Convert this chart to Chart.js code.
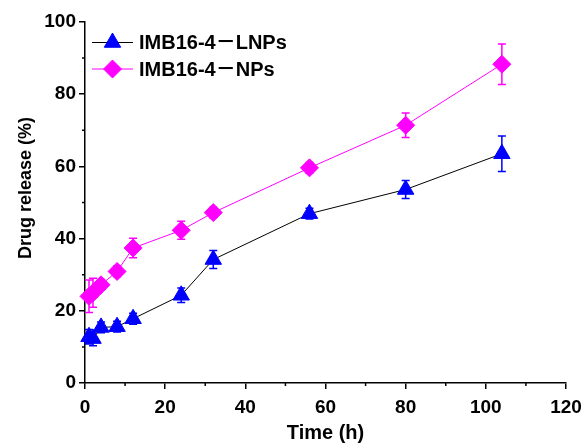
<!DOCTYPE html>
<html>
<head>
<meta charset="utf-8">
<script src="https://cdn.jsdelivr.net/npm/chart.js@4.4.0/dist/chart.umd.min.js"></script>
<style>
  html, body { margin: 0; padding: 0; background: #fff; }
</style>
</head>
<body>
<canvas id="releaseChart" width="584" height="446"></canvas>
<script>
// release profile, mean ± SD
const times = [1, 2, 4, 8, 12, 24, 32, 56, 80, 104];
const lnpRelease = [12.8, 12.3, 15.4, 15.6, 17.8, 24.3, 34.2, 46.9, 53.6, 63.5];
const lnpSd = [2, 2, 1.5, 1.5, 1.5, 2, 2.5, 1.5, 2.5, 4.9];
const npRelease = [24.0, 25.0, 27.2, 30.9, 37.4, 42.3, 47.2, 59.6, 71.4, 88.3];
const npSd = [4.5, 4, 1.5, 1.5, 2.7, 2.5, 1.5, 1.5, 3.4, 5.6];
const seriesNames = ["IMB16-4－LNPs", "IMB16-4－NPs"];
const xTitle = "Time (h)";
const yTitle = "Drug release (%)";

const FONT = "Arial, 'Liberation Sans', 'Noto Sans CJK SC', sans-serif";
const BLUE = "#0000ff";
const MAGENTA = "#ff00ff";

const toPoints = (vals) => vals.map((v, i) => ({ x: times[i], y: v }));
const isMajor = v => v % 20 === 0;

// vertical error bars with caps, drawn under the markers
const errorBars = {
  id: "errorBars",
  beforeDatasetsDraw(chart) {
    const { ctx, scales: { x, y } } = chart;
    chart.data.datasets.forEach(ds => {
      ctx.save();
      ctx.strokeStyle = ds.pointBackgroundColor;
      ctx.lineWidth = 1.5;
      ds.data.forEach((p, i) => {
        const px = x.getPixelForValue(p.x);
        const top = y.getPixelForValue(p.y + ds.errors[i]);
        const bot = y.getPixelForValue(p.y - ds.errors[i]);
        ctx.beginPath();
        ctx.moveTo(px, top); ctx.lineTo(px, bot);
        ctx.moveTo(px - 4, top); ctx.lineTo(px + 4, top);
        ctx.moveTo(px - 4, bot); ctx.lineTo(px + 4, bot);
        ctx.stroke();
      });
      ctx.restore();
    });
  }
};

// short minor ticks at the unlabeled tens, plus the rotated y title
const axisExtras = {
  id: "axisExtras",
  afterDraw(chart) {
    const { ctx, scales: { x, y } } = chart;
    ctx.save();
    ctx.strokeStyle = "#000";
    ctx.lineWidth = 1.5;
    ctx.beginPath();
    x.ticks.forEach(t => {
      if (isMajor(t.value)) return;
      const px = x.getPixelForValue(t.value);
      ctx.moveTo(px, y.bottom); ctx.lineTo(px, y.bottom + 3);
    });
    y.ticks.forEach(t => {
      if (isMajor(t.value)) return;
      const py = y.getPixelForValue(t.value);
      ctx.moveTo(x.left, py); ctx.lineTo(x.left - 3, py);
    });
    ctx.stroke();

    ctx.translate(26, 188);
    ctx.rotate(-Math.PI / 2);
    ctx.fillStyle = "#000";
    ctx.font = "bold 18px " + FONT;
    ctx.textAlign = "center";
    ctx.textBaseline = "middle";
    ctx.fillText(yTitle, 0, 0);
    ctx.restore();
  }
};

// legend: line sample with marker, then label
const lineLegend = {
  id: "lineLegend",
  afterDraw(chart) {
    const ctx = chart.ctx;
    chart.data.datasets.forEach((ds, i) => {
      const ly = 42.5 + i * 26.5;
      ctx.save();
      ctx.strokeStyle = ds.borderColor;
      ctx.lineWidth = 1;
      ctx.beginPath();
      ctx.moveTo(92, ly); ctx.lineTo(133, ly);
      ctx.stroke();
      ctx.fillStyle = ds.pointBackgroundColor;
      ctx.strokeStyle = ds.pointBackgroundColor;
      Chart.helpers.drawPoint(ctx, {
        pointStyle: ds.pointStyle, rotation: 0,
        radius: ds.pointRadius, borderWidth: 1
      }, 112.5, ly);
      ctx.fillStyle = "#000";
      ctx.font = "bold 20px " + FONT;
      ctx.textBaseline = "middle";
      ctx.fillText(ds.label, 139, ly + 1);
      ctx.restore();
    });
  }
};

const axisStyle = {
  border: { display: true, color: "#000", width: 1.5 },
  grid: {
    drawOnChartArea: false, drawTicks: true, lineWidth: 1.5, tickLength: 6,
    tickColor: c => (isMajor(c.tick.value) ? "#000" : "rgba(0,0,0,0)")
  }
};

new Chart(document.getElementById("releaseChart"), {
  type: "line",
  data: {
    datasets: [
      {
        label: seriesNames[0],
        data: toPoints(lnpRelease),
        errors: lnpSd,
        borderColor: "#000",
        borderWidth: 1,
        pointStyle: "triangle",
        pointRadius: 9.5,
        pointBackgroundColor: BLUE,
        pointBorderColor: BLUE,
        pointBorderWidth: 1,
        tension: 0,
        clip: false
      },
      {
        label: seriesNames[1],
        data: toPoints(npRelease),
        errors: npSd,
        borderColor: MAGENTA,
        borderWidth: 1,
        pointStyle: "rectRot",
        pointRadius: 9,
        pointBackgroundColor: MAGENTA,
        pointBorderColor: MAGENTA,
        pointBorderWidth: 1,
        tension: 0,
        clip: false
      }
    ]
  },
  options: {
    responsive: false,
    animation: false,
    layout: { padding: { top: 22, right: 18, bottom: 0, left: 0 } },
    plugins: {
      legend: { display: false },
      tooltip: { enabled: false }
    },
    scales: {
      x: {
        type: "linear",
        min: 0, max: 120,
        ...axisStyle,
        ticks: {
          stepSize: 10, autoSkip: false, maxRotation: 0, padding: 7,
          color: "#000", font: { family: FONT, size: 19, weight: "bold" },
          callback: v => (isMajor(v) ? v : "")
        },
        title: {
          display: true, text: xTitle, color: "#000",
          font: { family: FONT, size: 20, weight: "bold" },
          padding: { top: 0, bottom: 1 }
        },
        afterFit: s => { s.height = 63; s.paddingLeft = 0; s.paddingRight = 0; }
      },
      y: {
        min: 0, max: 100,
        ...axisStyle,
        ticks: {
          stepSize: 10, autoSkip: false, padding: 3,
          color: "#000", font: { family: FONT, size: 19, weight: "bold" },
          callback: v => (isMajor(v) ? v : "")
        },
        afterFit: s => { s.width = 85; s.paddingTop = 0; s.paddingBottom = 0; }
      }
    }
  },
  plugins: [errorBars, axisExtras, lineLegend]
});
</script>
</body>
</html>
